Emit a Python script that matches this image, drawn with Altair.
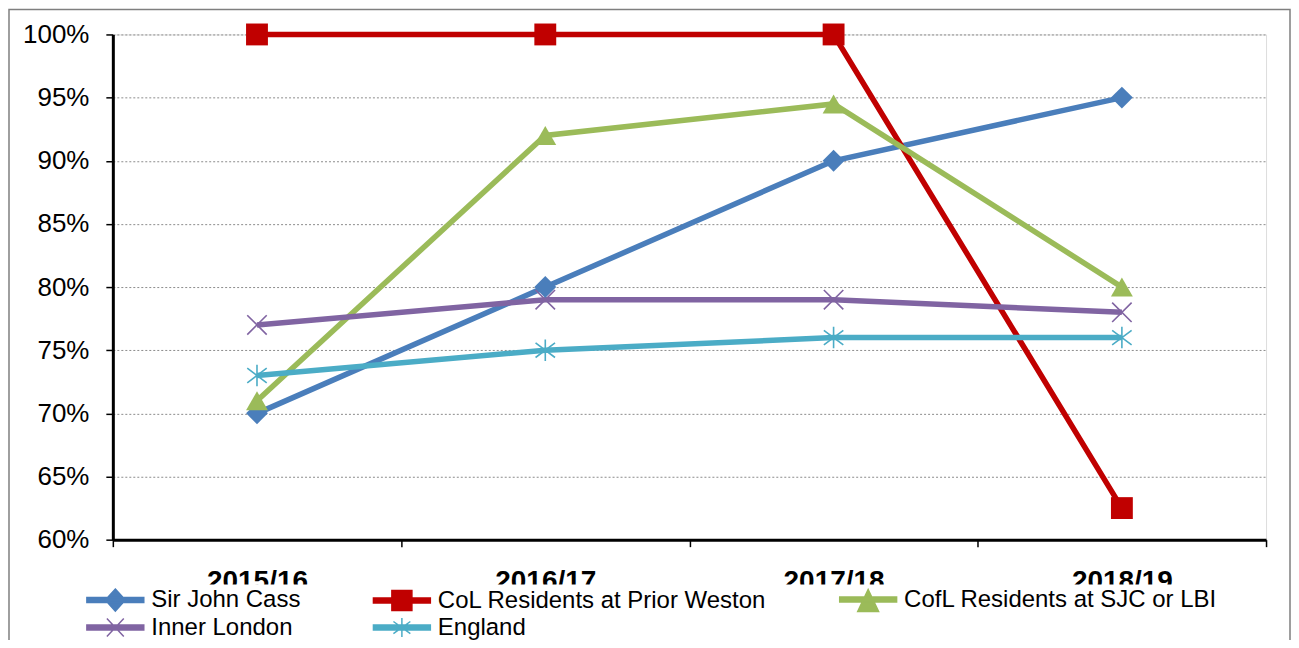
import altair as alt
import pandas as pd

# ---- data ----
years = ["2015/16", "2016/17", "2017/18", "2018/19"]
series_names = [
    "Sir John Cass",
    "CoL Residents at Prior Weston",
    "CofL Residents at SJC or LBI",
    "Inner London",
    "England",
]
sir_john_cass = [70, 80, 90, 95]
col_prior_weston = [100, 100, 100, 62.5]
cofl_sjc_lbi = [71, 92, 94.5, 80]
inner_london = [77, 79, 79, 78]
england = [73, 75, 76, 76]
y_ticks = [60, 65, 70, 75, 80, 85, 90, 95, 100]

# ---- styles ----
colors = ["#4A7EBB", "#C00000", "#9BBB59", "#8064A2", "#4BACC6"]
FONT = "Liberation Sans"

X_PATH = "M-1,-1L1,1M-1,1L1,-1"
STAR_PATH = "M0,-1.1L0,1.1M-1,-0.75L1,0.75M-1,0.75L1,-0.75"
point_shapes = ["diamond", "square", "triangle-up", X_PATH, STAR_PATH]

# legend symbols: a thick line segment with the marker on it (1 unit = 11 px)
BAR = "M-2.59,-0.23H2.59V0.23H-2.59Z "
legend_shapes = [
    BAR + "M0,-1L0.91,0L0,1L-0.91,0Z",
    BAR + "M-0.91,-0.91H0.91V0.91H-0.91Z",
    BAR + "M0,-0.91L0.95,1.09H-0.95Z",
    BAR + "M-0.77,-0.82L0.77,0.82M-0.77,0.82L0.77,-0.82",
    BAR + "M0,-0.86V0.86M-0.77,-0.55L0.77,0.55M-0.77,0.55L0.77,-0.55",
]

rows = []
for name, vals in zip(series_names, [sir_john_cass, col_prior_weston, cofl_sjc_lbi, inner_london, england]):
    for yr, v in zip(years, vals):
        rows.append({"year": yr, "series": name, "value": v})
df = pd.DataFrame(rows)

x_enc = alt.X(
    "year:N",
    sort=years,
    scale=alt.Scale(paddingInner=0, paddingOuter=0),
    axis=alt.Axis(
        title=None,
        labelAngle=0,
        labelFont=FONT,
        labelFontSize=28,
        labelFontWeight="bold",
        labelColor="black",
        labelPadding=21,
        tickBand="extent",
        tickSize=7,
        tickColor="black",
        tickWidth=1.5,
        domainColor="black",
        domainWidth=3,
        grid=False,
    ),
)
y_enc = alt.Y(
    "value:Q",
    scale=alt.Scale(domain=[60, 100]),
    axis=alt.Axis(
        title=None,
        values=y_ticks,
        labelExpr="datum.value + '%'",
        labelFont=FONT,
        labelFontSize=26,
        labelColor="black",
        labelPadding=17,
        tickSize=7,
        tickColor="black",
        tickWidth=1.5,
        domainColor="black",
        domainWidth=3,
        grid=True,
        gridColor="#8c8c8c",
        gridDash=[2, 2],
        gridWidth=1,
    ),
)

color_scale = alt.Scale(domain=series_names, range=colors)

base = alt.Chart(df)

lines = base.mark_line(strokeWidth=5.5).encode(
    x=x_enc, y=y_enc,
    stroke=alt.Stroke("series:N", scale=color_scale, legend=None),
    detail="series:N",
)

filled_pts = base.transform_filter(
    alt.FieldOneOfPredicate(field="series", oneOf=series_names[:3])
).mark_point(filled=True, size=480, opacity=1).encode(
    x=x_enc, y=y_enc,
    fill=alt.Fill("series:N", scale=color_scale, legend=None),
    shape=alt.Shape("series:N", scale=alt.Scale(domain=series_names, range=point_shapes), legend=None),
)

stroked_pts = base.transform_filter(
    alt.FieldOneOfPredicate(field="series", oneOf=series_names[3:])
).mark_point(filled=False, size=380, strokeWidth=1.6, opacity=1).encode(
    x=x_enc, y=y_enc,
    stroke=alt.Stroke("series:N", scale=color_scale, legend=None),
    shape=alt.Shape("series:N", scale=alt.Scale(domain=series_names, range=point_shapes), legend=None),
)

legend_def = alt.Legend(
    orient="none",
    direction="horizontal",
    legendX=-30,
    legendY=551,
    columns=3,
    title=None,
    labelFont=FONT,
    labelFontSize=24,
    labelColor="black",
    labelLimit=0,
    labelOffset=24,
    symbolSize=484,
    symbolOffset=17.5,
    symbolStrokeWidth=1.5,
    symbolOpacity=1,
    columnPadding=70,
    rowPadding=0,
    padding=3,
    fillColor="white",
)

legend_layer = base.mark_point(filled=True, opacity=0, strokeWidth=1.5).encode(
    x=x_enc, y=y_enc,
    fill=alt.Fill("series:N", scale=color_scale, legend=legend_def),
    stroke=alt.Stroke("series:N", scale=color_scale, legend=legend_def),
    shape=alt.Shape("series:N", scale=alt.Scale(domain=series_names, range=legend_shapes), legend=legend_def),
)

frame = alt.Chart(pd.DataFrame({"k": [0]})).mark_rect(
    fillOpacity=0, stroke="#7f7f7f", strokeWidth=1.5
).encode(
    x=alt.value(-104), x2=alt.value(1179), y=alt.value(-25), y2=alt.value(700)
)

chart = alt.layer(frame, lines, filled_pts, stroked_pts, legend_layer).resolve_scale(
    shape="independent", fill="independent", stroke="independent"
).properties(
    width=1155,
    height=506,
    padding={"left": 105, "top": 26, "right": 25, "bottom": 100},
    autosize=alt.AutoSizeParams(type="none"),
    background="white",
).configure_view(stroke="black", strokeWidth=2).configure(font=FONT)

chart.save("out.html", embed_options={"renderer": "svg", "actions": False})
